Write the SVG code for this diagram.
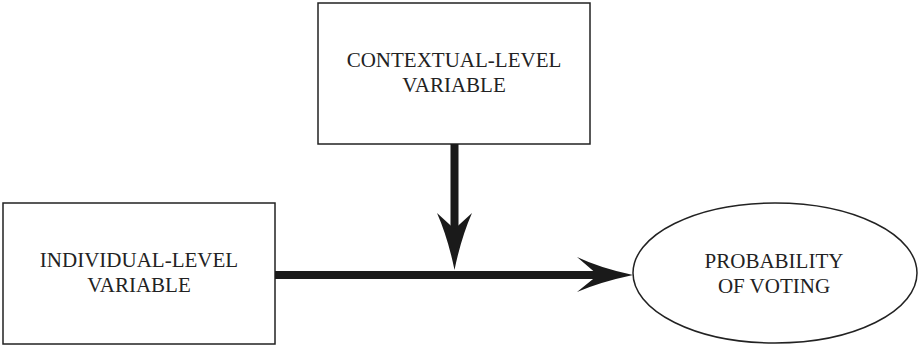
<svg xmlns="http://www.w3.org/2000/svg" width="918" height="345" viewBox="0 0 918 345">
<style>
.box{fill:#fff;stroke:#222;stroke-width:1.5}
.lbl{font-family:"Liberation Serif","Times New Roman",serif;font-size:21px;fill:#222;text-anchor:middle}
.conn{stroke:#1a1a1a;stroke-width:8;fill:none}
.head{fill:#1a1a1a}
</style>
<rect width="918" height="345" fill="#fff"/>
<g id="contextual">
<rect class="box" x="318" y="3" width="272" height="141"/>
<text class="lbl" x="454" y="67">CONTEXTUAL-LEVEL</text>
<text class="lbl" x="454" y="92">VARIABLE</text>
</g>
<g id="individual">
<rect class="box" x="3" y="203" width="272" height="141"/>
<text class="lbl" x="139" y="267">INDIVIDUAL-LEVEL</text>
<text class="lbl" x="139" y="292">VARIABLE</text>
</g>
<g id="probability">
<ellipse class="box" cx="775" cy="273" rx="142" ry="70"/>
<text class="lbl" x="774" y="268">PROBABILITY</text>
<text class="lbl" x="774" y="293">OF VOTING</text>
</g>
<g id="connectors">
<line class="conn" x1="275" y1="275" x2="600" y2="275"/>
<path class="head" d="M633,275 Q600,268 577,257 L598,275 L577,292 Q600,282 633,275 Z"/>
<line class="conn" x1="454.5" y1="144" x2="454.5" y2="232"/>
<path class="head" d="M454.5,270 Q448,238 437,213 L454.5,229 L472,213 Q461,238 454.5,270 Z"/>
</g>
</svg>
